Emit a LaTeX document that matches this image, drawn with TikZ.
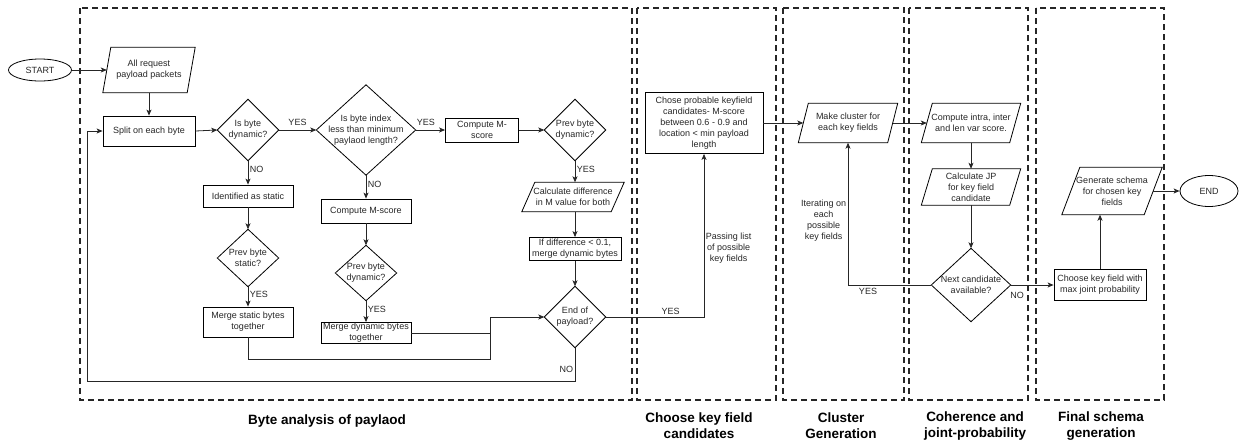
\documentclass[tikz,border=0pt]{standalone}
\usepackage{fontspec}
\setmainfont{Liberation Sans}
\usetikzlibrary{arrows.meta,shapes.geometric,calc}
\newcommand{\fsnode}{\fontsize{9}{11}\selectfont}
\newcommand{\fszone}{\fontsize{13.5}{16}\selectfont\bfseries}
\tikzset{
  base/.style={font=\fsnode, align=center, inner sep=0pt, text=black!85},
  proc/.style={base, draw, line width=0.8pt},
  term/.style={base, draw, ellipse, line width=0.8pt},
  dia/.style={base, append after command={\pgfextra{\draw[line width=0.8pt] (\tikzlastnode.north) -- (\tikzlastnode.east) -- (\tikzlastnode.south) -- (\tikzlastnode.west) -- cycle;}}},
  io/.style={base, append after command={\pgfextra{\draw[line width=0.8pt] ($(\tikzlastnode.north west)+(#1,0)$) -- (\tikzlastnode.north east) -- ($(\tikzlastnode.south east)+(-#1,0)$) -- (\tikzlastnode.south west) -- cycle;}}},
  io/.default=10,
  sz/.style 2 args={minimum width=#1, minimum height=#2},
  conn/.style={line width=0.8pt, draw=black!85},
  arr/.style={conn, -{Stealth[length=6pt,width=5pt,inset=1.5pt]}},
  lbl/.style={font=\fsnode, text=black!85, inner sep=1.5pt, align=center},
  zone/.style={line width=1.5pt, dash pattern=on 6pt off 4pt, draw=black!85},
  zonelbl/.style={font=\fszone, align=center, inner sep=0pt},
}
\begin{document}
\begin{tikzpicture}[x=1pt,y=-1pt]
\useasboundingbox (0,0) rectangle (1239,442);
% zones
\draw[zone] (80,8) rectangle (632,400);
\draw[zone] (637,8) rectangle (776,400);
\draw[zone] (783,8) rectangle (904,400);
\draw[zone] (909,8) rectangle (1028,400);
\draw[zone] (1036,8) rectangle (1164,400);
\node[zonelbl] (z1) at (327,421) {Byte analysis of paylaod};
\node[zonelbl] (z2) at (699,426) {Choose key field\\candidates};
\node[zonelbl] (z3) at (841,426) {Cluster\\Generation};
\node[zonelbl] (z4) at (975,426) {Coherence and\\joint-probability};
\node[zonelbl] (z5) at (1101,426) {Final schema\\generation};
% nodes
\node[term, sz={63pt}{22pt}] (start) at (40,70) {START};
\node[io=8, sz={92pt}{45pt}] (pkt) at (149,70) {All request\\payload packets};
\node[proc, sz={92pt}{30pt}] (split) at (149,131) {Split on each byte};
\node[dia, sz={61pt}{61pt}] (d1) at (248,130) {Is byte\\dynamic?};
\node[dia, sz={99pt}{90pt}] (d2) at (366,130) {Is byte index\\less than minimum\\paylaod length?};
\node[proc, sz={73pt}{24pt}] (cm1) at (482,130) {Compute M-\\score};
\node[dia, sz={61pt}{61pt}] (d3) at (575,130) {Prev byte\\dynamic?};
\node[io=13, sz={102pt}{29pt}] (calc) at (573,197) {Calculate difference\\in M value for both};
\node[proc, sz={92pt}{23pt}] (ifd) at (575,249) {If difference < 0.1,\\merge dynamic bytes};
\node[dia, sz={61pt}{61pt}] (endp) at (575,317) {End of\\payload?};
\node[proc, sz={90pt}{22pt}] (ident) at (248,196) {Identified as static};
\node[dia, sz={61pt}{57pt}] (ps) at (248,258) {Prev byte\\static?};
\node[proc, sz={90pt}{30pt}] (ms) at (248,322) {Merge static bytes\\together};
\node[proc, sz={90pt}{24pt}] (cm2) at (366,211) {Compute M-score};
\node[dia, sz={61pt}{55pt}] (pd) at (366,273) {Prev byte\\dynamic?};
\node[proc, sz={90pt}{21pt}] (md) at (366,333) {Merge dynamic bytes\\together};
\node[proc, sz={118pt}{61pt}] (chose) at (704,123) {Chose probable keyfield\\candidates- M-score\\between 0.6 - 0.9 and\\location < min payload\\length};
\node[io=10, sz={99pt}{39pt}] (make) at (848,123) {Make cluster for\\each key fields};
\node[io=11, sz={99pt}{39pt}] (intra) at (971,123) {Compute intra, inter\\and len var score.};
\node[io=11, sz={99pt}{36pt}] (jp) at (971,187) {Calculate JP\\for key field\\candidate};
\node[dia, sz={79pt}{73pt}] (next) at (971,285) {Next candidate\\available?};
\node[proc, sz={92pt}{31pt}] (choose) at (1100,285) {Choose key field with\\max joint probability};
\node[io=18, sz={100pt}{47pt}] (gen) at (1112,191) {Generate schema\\for chosen key\\fields};
\node[term, sz={58pt}{31pt}] (finish) at (1209,191) {END};
% connectors
\draw[arr] (start.east) -- ($(pkt.west)+(4,0)$);
\draw[arr] (pkt.south) -- (split.north);
\draw[arr] (split.east) -- (d1.west);
\draw[arr] (d1.east) -- node[lbl,above=3pt,pos=0.5]{YES} (d2.west);
\draw[arr] (d2.east) -- node[lbl,above=3pt,pos=0.35]{YES} (cm1.west);
\draw[arr] (cm1.east) -- (d3.west);
\draw[arr] (d3.south) -- node[lbl,right,pos=0.4]{YES} (d3.south |- calc.north);
\draw[arr] (ifd.north |- calc.south) -- (ifd.north);
\draw[arr] (ifd.south) -- (endp.north);
\draw[arr] (d1.south) -- node[lbl,right,pos=0.35]{NO} (ident.north);
\draw[arr] (ident.south) -- (ps.north);
\draw[arr] (ps.south) -- node[lbl,right,pos=0.4]{YES} (ms.north);
\draw[arr] (d2.south) -- node[lbl,right,pos=0.4]{NO} (cm2.north);
\draw[arr] (cm2.south) -- (pd.north);
\draw[arr] (pd.south) -- node[lbl,right,pos=0.4]{YES} (md.north);
\path (endp.west) ++(-54,0) coordinate (join);
\path (ms.south) ++(0,22) coordinate (msb);
\draw[arr] (ms.south) -- (msb) -| (join) -- (endp.west);
\draw[conn] (md.east) -- (md.east -| join);
\path (endp.south) ++(0,34) coordinate (nob);
\draw[arr] (endp.south) -- node[lbl,left,pos=0.65]{NO} (nob) -| ($(split.west)+(-15,0)$) -- (split.west);
\draw[arr] (endp.east) -| node[lbl,above=1pt,pos=0.33]{YES} node[lbl,right,pos=0.71]{Passing list\\of possible\\key fields} (chose.south);
\draw[arr] (chose.east) -- ($(make.west)+(5,0)$);
\draw[arr] ($(make.east)+(-5,0)$) -- ($(intra.west)+(5.5,0)$);
\draw[arr] (intra.south) -- (jp.north);
\draw[arr] (jp.south) -- (next.north);
\draw[arr] (next.west) -| node[lbl,below=1pt,pos=0.38]{YES} node[lbl,left,pos=0.725]{Iterating on\\each\\possible\\key fields} (make.south);
\draw[arr] (next.east) -- node[lbl,below=5pt,pos=0.15]{NO} (choose.west);
\draw[arr] (choose.north) -- (choose.north |- gen.south);
\draw[arr] ($(gen.east)+(-9,0)$) -- (finish.west);
\end{tikzpicture}
\end{document}
